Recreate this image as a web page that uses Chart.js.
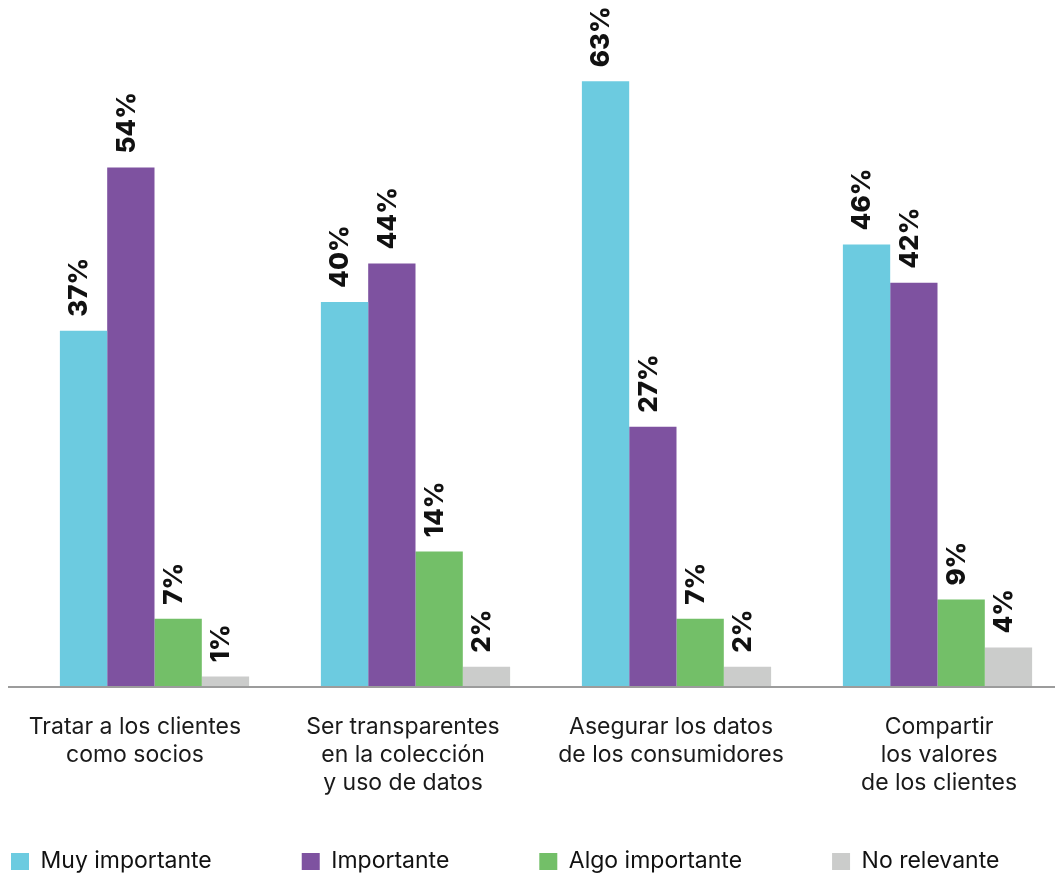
<!DOCTYPE html>
<html lang="es">
<head>
    <meta charset="UTF-8">
    <title>chart</title>
    <script src="https://cdnjs.cloudflare.com/ajax/libs/Chart.js/4.4.0/chart.umd.min.js"></script>
    <style>
        body { margin: 0; overflow: hidden; background: #fff; }
        #wrap { position: absolute; left: -79px; top: 0; width: 1200px; height: 883px; }
    </style>
</head>
<body>
    <div id="wrap">
        <canvas id="chart"></canvas>
    </div>
</body>
</html>

<script>
    const categories = [
        ['Tratar a los clientes', 'como socios'],
        ['Ser transparentes', 'en la colección', 'y uso de datos'],
        ['Asegurar los datos', 'de los consumidores'],
        ['Compartir', 'los valores', 'de los clientes']
    ];
    const seriesNames = ['Muy importante', 'Importante', 'Algo importante', 'No relevante'];
    const muyImportante = [37, 40, 63, 46];
    const importante = [54, 44, 27, 42];
    const algoImportante = [7, 14, 7, 9];
    const noRelevante = [1, 2, 2, 4];
    const colors = ['#6ccbe0', '#7e52a0', '#73bf68', '#cbcccb'];

    // rotated value labels above each bar
    const valueLabels = {
        id: 'valueLabels',
        afterDatasetsDraw(chart) {
            const ctx = chart.ctx;
            ctx.save();
            ctx.font = '800 26px Inter';
            ctx.fillStyle = '#111';
            ctx.textAlign = 'left';
            ctx.textBaseline = 'middle';
            chart.data.datasets.forEach((ds, i) => {
                chart.getDatasetMeta(i).data.forEach((bar, j) => {
                    ctx.save();
                    ctx.translate(bar.x - 4, bar.y - 14);
                    ctx.rotate(-Math.PI / 2);
                    ctx.fillText(ds.data[j] + '%', 0, 0);
                    ctx.restore();
                });
            });
            ctx.restore();
        }
    };

    // baseline under the bars
    const baseLine = {
        id: 'baseLine',
        afterDatasetsDraw(chart) {
            const ctx = chart.ctx;
            const a = chart.chartArea;
            ctx.save();
            ctx.strokeStyle = '#9c9c9c';
            ctx.lineWidth = 2;
            ctx.beginPath();
            ctx.moveTo(a.left - 16, a.bottom + 1);
            ctx.lineTo(chart.width, a.bottom + 1);
            ctx.stroke();
            ctx.restore();
        }
    };

    const data = [muyImportante, importante, algoImportante, noRelevante];

    new Chart(document.querySelector('#chart'), {
        type: 'bar',
        data: {
            labels: categories,
            datasets: seriesNames.map((name, i) => ({
                label: name,
                data: data[i],
                backgroundColor: colors[i],
                borderWidth: 0,
                categoryPercentage: 0.725,
                barPercentage: 1.0
            }))
        },
        options: {
            responsive: true,
            maintainAspectRatio: false,
            animation: false,
            layout: { padding: { top: 14 } },
            plugins: {
                tooltip: { enabled: false },
                legend: {
                    position: 'bottom',
                    align: 'start',
                    labels: {
                        boxWidth: 18,
                        boxHeight: 17,
                        padding: 90,
                        color: '#111',
                        font: { family: 'Inter', size: 23 }
                    }
                }
            },
            scales: {
                x: { display: false },
                // category names sit a little wider apart than the bar groups
                x2: {
                    type: 'linear',
                    position: 'bottom',
                    offset: false,
                    min: -0.414,
                    max: 3.481,
                    grid: { display: false, drawTicks: false },
                    border: { display: false },
                    afterBuildTicks: (s) => { s.ticks = categories.map((c, i) => ({ value: i })); },
                    ticks: {
                        autoSkip: false,
                        color: '#1a1a1a',
                        padding: 27,
                        maxRotation: 0,
                        font: { family: 'Inter', size: 23, lineHeight: 1.22 },
                        callback: (v) => categories[v]
                    },
                    afterFit: (s) => {
                        s.height = 74;
                        // let the third label line run below the short axis box
                        s._computeLabelArea = () => undefined;
                    }
                },
                y: {
                    min: 0,
                    max: 70,
                    grid: { display: false },
                    border: { display: false },
                    ticks: { display: false },
                    afterFit: (s) => { s.width = 103; }
                },
                y2: {
                    position: 'right',
                    grid: { display: false },
                    border: { display: false },
                    ticks: { display: false },
                    afterFit: (s) => { s.width = 53; }
                }
            }
        },
        plugins: [valueLabels, baseLine]
    });
</script>
